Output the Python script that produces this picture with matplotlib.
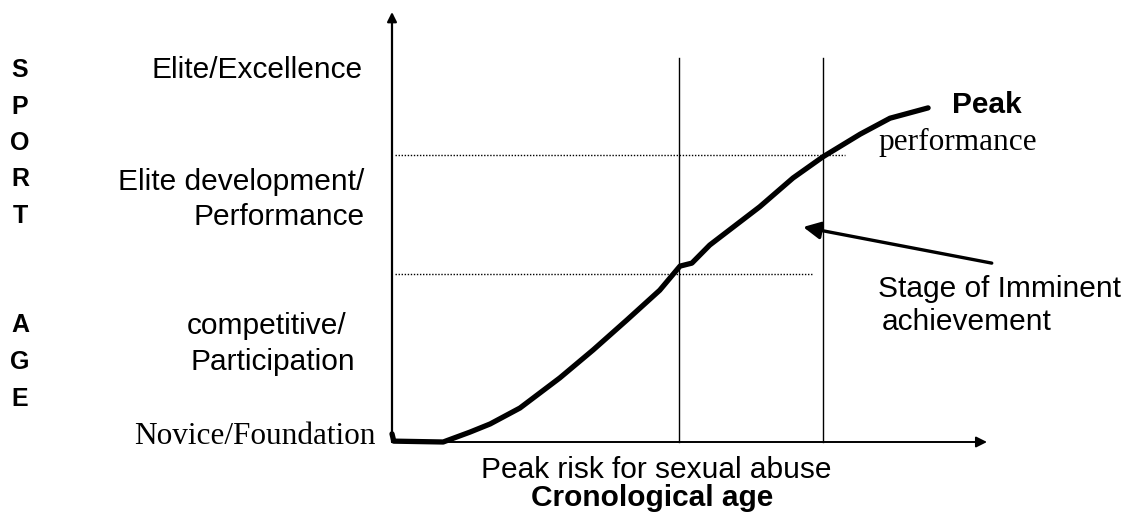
import matplotlib
matplotlib.use("Agg")
import matplotlib.pyplot as plt

# Curva de desenvolvimento (idade cronológica x nível esportivo), unidades 0-100
age = [0, 0.3, 8.6, 13.1, 16.5, 21.5, 28.2, 33.8, 39.5, 45.0, 48.4, 50.4,
       53.4, 61.8, 67.4, 72.4, 78.7, 83.7, 90.1]
level = [1.9, 0.2, 0, 2.3, 4.2, 7.9, 14.9, 21.4, 28.4, 35.3, 40.9, 41.6,
         45.8, 54.7, 61.4, 66.3, 71.6, 75.3, 77.7]

# Linhas verticais (fases) e linhas pontilhadas (níveis)
phase_ages = [48.2, 72.4]
phase_top = 89.3
stage_levels = [39.1, 66.7]
stage_ends = [70.8, 76.1]

# Seta "Stage of Imminent achievement"
arrow_tip = (69.1, 50.0)
arrow_tail = (100.8, 41.6)

# Letras verticais ao lado do eixo Y
side_letters = ["S", "P", "O", "R", "T", "", "", "A", "G", "E"]

W, H = 1141, 524
fig = plt.figure(figsize=(W / 100, H / 100), dpi=100)


def fx(px):
    return px / W


def fy(py):
    return 1 - py / H


ax = fig.add_axes([fx(392), fy(442), (987 - 392) / W, (442 - 12) / H])
ax.set_xlim(0, 100)
ax.set_ylim(0, 100)
ax.axis('off')

# Eixos com setas
ax.annotate('', xy=(0, 1), xytext=(0, 0), xycoords='axes fraction',
            arrowprops=dict(arrowstyle='-|>', lw=1.6, color='black',
                            mutation_scale=14, shrinkA=0, shrinkB=0),
            annotation_clip=False)
ax.annotate('', xy=(1, 0), xytext=(0, 0), xycoords='axes fraction',
            arrowprops=dict(arrowstyle='-|>', lw=1.4, color='black',
                            mutation_scale=16, shrinkA=0, shrinkB=0),
            annotation_clip=False)

for a in phase_ages:
    ax.plot([a, a], [0, phase_top], color='black', lw=1.0, clip_on=False)

for lv, end in zip(stage_levels, stage_ends):
    ax.plot([0.5, end], [lv, lv], color='black', lw=1.0,
            linestyle=(0, (1, 1.2)), clip_on=False)

ax.plot(age, level, color='black', lw=3.8, solid_capstyle='round',
        solid_joinstyle='round', clip_on=False)

ax.annotate('', xy=arrow_tip, xytext=arrow_tail,
            arrowprops=dict(arrowstyle='-|>', lw=2.4, color='black',
                            mutation_scale=26, shrinkA=0, shrinkB=0),
            annotation_clip=False)

sans = 'Liberation Sans'
serif = 'Liberation Serif'
fs = 21.5
fs_serif = 22.5

# Letras verticais "SPORT AGE"
for i, ch in enumerate(side_letters):
    if ch:
        fig.text(fx(20), fy(70 + i * 36.5), ch, family=sans, weight='bold',
                 fontsize=18, ha='center', va='center')

fig.text(fx(363), fy(70), "Elite/Excellence", family=sans, fontsize=fs,
         ha='right', va='center')
fig.text(fx(364), fy(182), "Elite development/", family=sans, fontsize=fs,
         ha='right', va='center')
fig.text(fx(365), fy(217), "Performance", family=sans, fontsize=fs,
         ha='right', va='center')
fig.text(fx(267), fy(326), "competitive/", family=sans, fontsize=fs,
         ha='center', va='center')
fig.text(fx(273), fy(362), "Participation", family=sans, fontsize=fs,
         ha='center', va='center')
fig.text(fx(376), fy(437), "Novice/Foundation", family=serif,
         fontsize=fs_serif, ha='right', va='center')

fig.text(fx(952), fy(105), "Peak", family=sans, weight='bold', fontsize=fs,
         ha='left', va='center')
fig.text(fx(878), fy(142), "performance", family=serif, fontsize=fs_serif,
         ha='left', va='center')
fig.text(fx(878), fy(289), "Stage of Imminent", family=sans, fontsize=fs,
         ha='left', va='center')
fig.text(fx(882), fy(322), "achievement", family=sans, fontsize=fs,
         ha='left', va='center')

fig.text(fx(656), fy(470), "Peak risk for sexual abuse", family=sans,
         fontsize=fs, ha='center', va='center')
fig.text(fx(652), fy(498), "Cronological age", family=sans, weight='bold',
         fontsize=fs, ha='center', va='center')

fig.savefig('out.png', dpi=100, facecolor='white')
plt.close(fig)
